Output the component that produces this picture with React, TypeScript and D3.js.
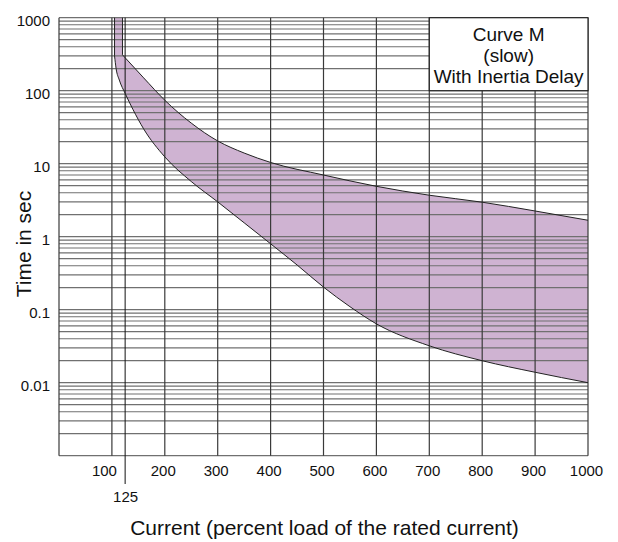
import React from "react";
import * as d3 from "d3";

// ---- data ----
const xTicks = [100, 200, 300, 400, 500, 600, 700, 800, 900, 1000];
const yTicks = [1000, 100, 10, 1, 0.1, 0.01];
const yTickLabels = ["1000", "100", "10", "1", "0.1", "0.01"];
const decades = [0.001, 0.01, 0.1, 1, 10, 100];
const markerX = 125;

// upper boundary of the band (percent load, seconds)
const upperVertical: [number, number][] = [[120, 1000], [120, 310]];
const upperCurve: [number, number][] = [
  [120, 310], [160, 150], [200, 74], [250, 36], [300, 20.5], [350, 14],
  [400, 10.4], [500, 7], [600, 4.9], [700, 3.7], [800, 2.97],
  [900, 2.25], [1000, 1.68],
];
// lower boundary of the band
const lowerVertical: [number, number][] = [[105, 1000], [105, 300]];
const lowerCurve: [number, number][] = [
  [105, 300], [108, 200], [114, 140], [125, 92], [140, 55], [160, 30],
  [200, 12.4], [250, 5.7], [300, 3.0], [350, 1.55], [400, 0.8],
  [450, 0.41], [500, 0.204], [550, 0.11], [600, 0.064], [700, 0.032],
  [800, 0.02], [900, 0.0139], [1000, 0.01],
];
const legendLines = ["Curve M", "(slow)", "With Inertia Delay"];
const xTitle = "Current (percent load of the rated current)";
const yTitle = "Time in sec";

export default function App() {
  const W = 618, H = 542;
  const left = 59, right = 588, top = 17.7, bottom = 455.7;
  const x = d3.scaleLinear().domain([0, 1000]).range([left, right]);
  const y = d3.scaleLog().domain([0.001, 1000]).range([bottom, top]);
  const font = "'Liberation Sans', Arial, Helvetica, sans-serif";

  const lin = d3.line<[number, number]>().x(d => x(d[0])).y(d => y(d[1]));
  const curve = d3.line<[number, number]>().x(d => x(d[0])).y(d => y(d[1])).curve(d3.curveMonotoneX);

  const upperPath = (lin(upperVertical) as string) + (curve(upperCurve) as string).replace(/^M/, "L");
  const lowerRev = [...lowerCurve].reverse();
  const lowerVRev = [...lowerVertical].reverse();
  const lowerPathRev = (curve(lowerRev) as string).replace(/^M/, "L") + (lin(lowerVRev) as string).replace(/^M/, "L");
  const bandPath = upperPath + lowerPathRev + "Z";
  const lowerPath = (lin(lowerVertical) as string) + (curve(lowerCurve) as string).replace(/^M/, "L");

  const hLines: number[] = [];
  decades.forEach(d => { for (let m = 1; m <= 9; m++) hLines.push(d * m); });
  hLines.push(1000);

  const lx0 = x(700), lx1 = x(1000), ly0 = y(1000), ly1 = y(100);

  return (
    <svg width={W} height={H} style={{ position: "absolute", left: 0, top: 0, background: "#fff" }}>
      <path d={bandPath} fill="#cfb3d2" stroke="none" />
      {hLines.map((v, i) => (
        <line key={"h" + i} x1={left} x2={right} y1={y(v)} y2={y(v)} stroke="#707070" strokeWidth={1.2} />
      ))}
      {[0, ...xTicks].map((v, i) => (
        <line key={"v" + i} x1={x(v)} x2={x(v)} y1={top} y2={bottom} stroke="#3a3a3a" strokeWidth={1.2} />
      ))}
      <line x1={x(markerX)} x2={x(markerX)} y1={top} y2={484} stroke="#111" strokeWidth={1} />
      <path d={upperPath} fill="none" stroke="#222" strokeWidth={1} />
      <path d={lowerPath} fill="none" stroke="#222" strokeWidth={1} />
      <rect x={lx0} y={ly0} width={lx1 - lx0} height={ly1 - ly0} fill="#fff" stroke="#222" strokeWidth={1.2} />
      {legendLines.map((t, i) => (
        <text key={"l" + i} x={(lx0 + lx1) / 2} y={40.7 + i * 21.2} textAnchor="middle"
          fontFamily={font} fontSize={19} fill="#111">{t}</text>
      ))}
      {yTicks.map((v, i) => (
        <text key={"yt" + i} x={50} y={y(v) + 8.5} textAnchor="end" fontFamily={font} fontSize={15} fill="#111">
          {yTickLabels[i]}
        </text>
      ))}
      {xTicks.map((v, i) => (
        <text key={"xt" + i} x={x(v) - (v === 100 ? 7.5 : 1.5)} y={476} textAnchor="middle"
          fontFamily={font} fontSize={15} fill="#111">{v}</text>
      ))}
      <text x={x(markerX) + 0.5} y={502} textAnchor="middle" fontFamily={font} fontSize={15} fill="#111">{markerX}</text>
      <text x={324.5} y={535} textAnchor="middle" fontFamily={font} fontSize={21} fill="#111">{xTitle}</text>
      <text transform={`translate(31,244) rotate(-90)`} textAnchor="middle" fontFamily={font} fontSize={21} fill="#111">
        {yTitle}
      </text>
    </svg>
  );
}
